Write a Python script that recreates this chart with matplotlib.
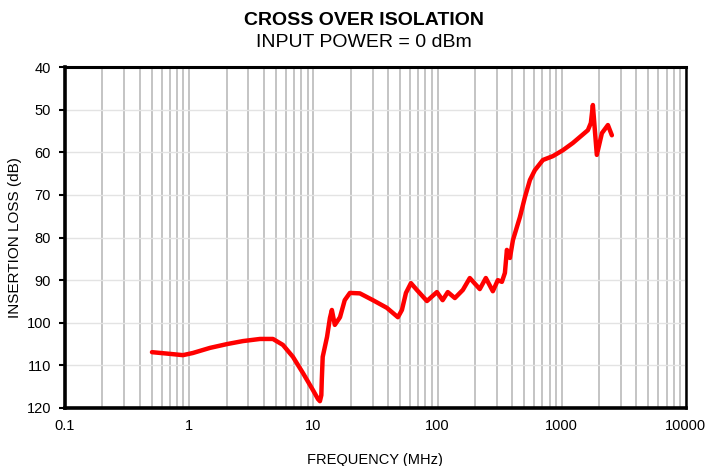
#!/usr/bin/env python3
"""Cross over isolation vs frequency (input power = 0 dBm)"""

import matplotlib
matplotlib.use("Agg")
import matplotlib.pyplot as plt
from matplotlib.ticker import FixedLocator, NullFormatter, LogLocator

plt.rcParams['font.family'] = ['Liberation Sans', 'DejaVu Sans']

# values
freq_mhz = [0.502, 0.700, 0.891, 1.07, 1.47, 2.02, 2.71, 3.72, 4.73, 5.69,
            6.85, 8.25, 9.93, 10.9, 11.3, 11.6, 11.7, 11.9, 12.9, 13.6,
            14.1, 14.9, 16.4, 17.9, 19.7, 23.7, 30.2, 39.1, 48.0, 51.7,
            55.7, 61.1, 68.2, 82.2, 98.9, 110, 121, 138, 160, 182,
            219, 245, 279, 306, 330, 349, 362, 383, 405, 461,
            506, 555, 608, 706, 849, 1023, 1231, 1455, 1626, 1718,
            1783, 1850, 1919, 2108, 2356, 2536]
loss_db = [106.9, 107.3, 107.6, 107.1, 105.9, 105.0, 104.3, 103.8, 103.8, 105.2,
           108.0, 111.8, 115.8, 117.9, 118.4, 117.0, 113.4, 108.0, 103.3, 98.9,
           97.0, 100.5, 98.7, 94.7, 93.0, 93.1, 94.7, 96.5, 98.7, 97.0,
           93.0, 90.7, 92.3, 94.9, 92.8, 94.7, 92.8, 94.2, 92.3, 89.5,
           92.1, 89.5, 92.6, 90.0, 90.4, 88.3, 82.9, 84.8, 80.6, 75.2,
           70.5, 66.5, 64.2, 61.8, 60.9, 59.5, 57.8, 56.0, 54.8, 53.1,
           48.9, 54.8, 60.6, 55.5, 53.6, 56.0]

x_ticks = [0.1, 1, 10, 100, 1000, 10000]
x_tick_labels = ['0.1', '1', '10', '100', '1000', '10000']
y_ticks = [40, 50, 60, 70, 80, 90, 100, 110, 120]


def main():
    fig = plt.figure(figsize=(7.10, 4.66), dpi=100)
    ax = fig.add_axes([0.0915, 0.1245, 0.8745, 0.7315])

    ax.set_xscale('log')
    ax.set_xlim(0.1, 10000)
    ax.set_ylim(120, 40)

    # grid: darker verticals at every log step, faint horizontals
    ax.xaxis.set_minor_locator(LogLocator(base=10, subs=range(2, 10), numticks=20))
    ax.xaxis.set_minor_formatter(NullFormatter())
    ax.grid(True, which='both', axis='x', color='#bfbfbf', linewidth=1.3)
    ax.grid(True, which='major', axis='y', color='#e3e3e3', linewidth=1.0)
    ax.set_axisbelow(True)

    ax.plot(freq_mhz, loss_db, color='#ff0000', linewidth=3.2,
            solid_joinstyle='round', solid_capstyle='round')

    ax.xaxis.set_major_locator(FixedLocator(x_ticks))
    ax.set_xticklabels(x_tick_labels)
    ax.set_yticks(y_ticks)
    ax.tick_params(axis='x', which='both', length=0, pad=8, labelsize=10.5)
    ax.tick_params(axis='y', length=4, width=1.5, direction='out', pad=6, labelsize=10.5)

    for side in ['left', 'bottom']:
        ax.spines[side].set_linewidth(2.6)
    ax.spines['top'].set_linewidth(2.2)
    ax.spines['right'].set_linewidth(1.8)

    ax.set_xlabel('FREQUENCY (MHz)', fontsize=10.5, labelpad=14)
    ax.set_ylabel('INSERTION LOSS (dB)', fontsize=11)
    ax.yaxis.set_label_coords(-0.07, 0.5)

    fig.text(0.513, 0.957, 'CROSS OVER ISOLATION', ha='center', va='center',
             fontsize=14, fontweight='bold')
    fig.text(0.513, 0.908, 'INPUT POWER = 0 dBm', ha='center', va='center',
             fontsize=14)

    fig.savefig('out.png', dpi=100)


if __name__ == "__main__":
    main()
